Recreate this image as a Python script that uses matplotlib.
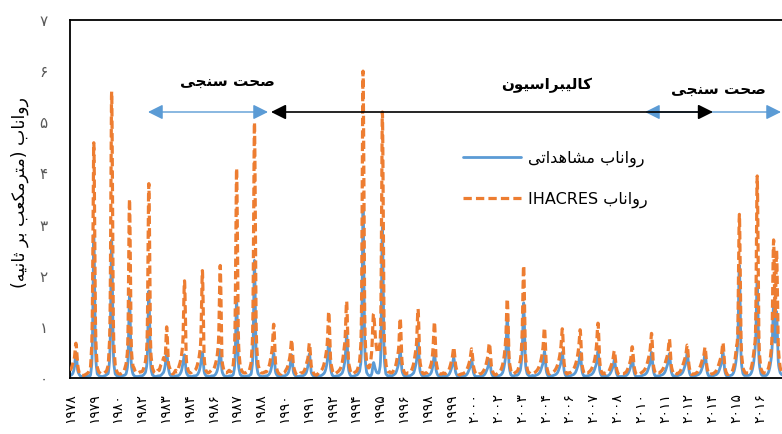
import numpy as np
import matplotlib
matplotlib.use("Agg")
import matplotlib.pyplot as plt
from matplotlib.patches import FancyArrowPatch

plt.rcParams['font.family'] = ['DejaVu Sans']

# ---------------- data (monthly runoff, m3/s), one row per year ----------------
years = list(range(1978, 2018))
obs = [
    [0.05,0.06,0.10,0.22,0.50,0.18,0.08,0.04,0.03,0.03,0.03,0.03],  # 1978
    [0.04,0.05,0.10,0.60,2.80,0.70,0.15,0.06,0.04,0.03,0.03,0.04],  # 1979
    [0.05,0.08,0.15,0.70,2.70,0.65,0.15,0.06,0.04,0.03,0.03,0.04],  # 1980
    [0.05,0.06,0.12,0.40,1.60,0.40,0.12,0.05,0.03,0.03,0.03,0.04],  # 1981
    [0.04,0.05,0.08,0.15,0.45,1.70,0.40,0.10,0.05,0.03,0.03,0.04],  # 1982
    [0.04,0.05,0.08,0.12,0.25,0.50,0.22,0.08,0.04,0.03,0.03,0.04],  # 1983
    [0.04,0.05,0.08,0.15,0.30,0.45,0.15,0.06,0.04,0.03,0.03,0.04],  # 1984
    [0.04,0.05,0.08,0.15,0.30,0.50,0.16,0.06,0.04,0.03,0.03,0.04],  # 1985
    [0.04,0.05,0.08,0.15,0.30,0.55,0.18,0.07,0.04,0.03,0.03,0.04],  # 1986
    [0.04,0.05,0.10,0.40,1.50,0.40,0.12,0.05,0.04,0.03,0.03,0.04],  # 1987
    [0.04,0.06,0.12,0.55,2.30,0.55,0.15,0.06,0.04,0.03,0.03,0.04],  # 1988
    [0.04,0.05,0.08,0.15,0.30,0.48,0.15,0.06,0.04,0.03,0.03,0.04],  # 1989
    [0.04,0.05,0.07,0.12,0.25,0.45,0.15,0.06,0.04,0.03,0.03,0.04],  # 1990
    [0.04,0.05,0.07,0.12,0.25,0.47,0.15,0.06,0.04,0.03,0.03,0.04],  # 1991
    [0.04,0.05,0.07,0.10,0.18,0.35,0.75,0.25,0.08,0.04,0.03,0.04],  # 1992
    [0.04,0.05,0.07,0.10,0.20,0.40,0.85,0.25,0.08,0.04,0.03,0.04],  # 1993
    [0.05,0.06,0.10,0.20,0.70,3.35,0.80,0.20,0.08,0.05,0.04,0.10],  # 1994
    [0.30,0.20,0.12,0.10,0.15,0.60,2.95,0.70,0.15,0.06,0.04,0.05],  # 1995
    [0.04,0.05,0.07,0.10,0.18,0.30,0.52,0.18,0.07,0.04,0.03,0.04],  # 1996
    [0.04,0.05,0.07,0.10,0.20,0.35,0.74,0.22,0.08,0.04,0.03,0.04],  # 1997
    [0.04,0.05,0.07,0.12,0.25,0.48,0.18,0.07,0.04,0.03,0.03,0.04],  # 1998
    [0.03,0.04,0.05,0.08,0.15,0.25,0.40,0.15,0.06,0.03,0.03,0.03],  # 1999
    [0.03,0.04,0.05,0.08,0.14,0.22,0.36,0.14,0.05,0.03,0.03,0.03],  # 2000
    [0.03,0.04,0.05,0.08,0.14,0.22,0.36,0.14,0.05,0.03,0.03,0.03],  # 2001
    [0.04,0.05,0.07,0.12,0.25,0.50,1.20,0.35,0.10,0.05,0.04,0.05],  # 2002
    [0.05,0.06,0.10,0.20,0.55,1.47,0.40,0.12,0.06,0.04,0.04,0.05],  # 2003
    [0.04,0.05,0.06,0.08,0.12,0.20,0.30,0.52,0.18,0.06,0.04,0.04],  # 2004
    [0.04,0.05,0.06,0.08,0.12,0.20,0.30,0.50,0.18,0.06,0.04,0.04],  # 2005
    [0.04,0.05,0.06,0.08,0.12,0.20,0.30,0.50,0.18,0.06,0.04,0.04],  # 2006
    [0.04,0.05,0.06,0.08,0.12,0.20,0.30,0.52,0.18,0.06,0.04,0.04],  # 2007
    [0.03,0.04,0.05,0.08,0.14,0.22,0.36,0.14,0.05,0.03,0.03,0.03],  # 2008
    [0.03,0.04,0.05,0.08,0.14,0.24,0.42,0.15,0.05,0.03,0.03,0.03],  # 2009
    [0.04,0.05,0.06,0.08,0.12,0.20,0.30,0.50,0.18,0.06,0.04,0.04],  # 2010
    [0.04,0.05,0.06,0.08,0.12,0.20,0.30,0.47,0.17,0.06,0.04,0.04],  # 2011
    [0.04,0.05,0.06,0.08,0.12,0.20,0.30,0.50,0.18,0.06,0.04,0.04],  # 2012
    [0.04,0.05,0.06,0.08,0.12,0.20,0.30,0.50,0.18,0.06,0.04,0.04],  # 2013
    [0.04,0.05,0.06,0.08,0.12,0.20,0.30,0.50,0.18,0.06,0.04,0.04],  # 2014
    [0.05,0.06,0.10,0.20,0.40,0.80,2.20,0.55,0.15,0.06,0.05,0.05],  # 2015
    [0.05,0.06,0.10,0.20,0.40,0.80,1.90,0.50,0.15,0.06,0.05,0.05],  # 2016
    [0.05,0.08,0.15,0.30,0.60,1.50,0.70,1.30,0.40,0.15,0.08,0.06],  # 2017
]
sim = [
    [0.15,0.20,0.30,0.40,0.68,0.30,0.12,0.06,0.05,0.05,0.06,0.08],  # 1978
    [0.10,0.15,0.30,1.20,4.60,1.30,0.35,0.15,0.10,0.08,0.08,0.10],  # 1979
    [0.12,0.18,0.40,1.40,5.60,1.40,0.40,0.18,0.10,0.08,0.08,0.10],  # 1980
    [0.12,0.20,0.35,0.90,3.50,0.90,0.30,0.20,0.12,0.10,0.10,0.12],  # 1981
    [0.12,0.15,0.25,0.40,1.00,3.80,0.90,0.30,0.15,0.10,0.10,0.15],  # 1982
    [0.15,0.25,0.30,0.40,0.38,1.00,0.35,0.20,0.12,0.08,0.10,0.15],  # 1983
    [0.12,0.20,0.30,0.45,0.80,1.90,0.50,0.20,0.12,0.10,0.12,0.15],  # 1984
    [0.15,0.20,0.30,0.45,0.80,2.10,0.55,0.20,0.12,0.10,0.12,0.15],  # 1985
    [0.15,0.20,0.30,0.45,0.85,2.20,0.55,0.20,0.12,0.10,0.12,0.15],  # 1986
    [0.12,0.18,0.35,1.10,4.10,1.10,0.35,0.18,0.12,0.10,0.10,0.12],  # 1987
    [0.12,0.20,0.40,1.30,5.00,1.30,0.40,0.20,0.12,0.10,0.10,0.12],  # 1988
    [0.12,0.18,0.25,0.40,0.60,1.05,0.35,0.18,0.10,0.08,0.08,0.12],  # 1989
    [0.10,0.15,0.20,0.30,0.45,0.75,0.30,0.15,0.08,0.06,0.06,0.10],  # 1990
    [0.10,0.12,0.18,0.28,0.40,0.68,0.28,0.15,0.08,0.06,0.06,0.10],  # 1991
    [0.12,0.15,0.20,0.30,0.45,0.70,1.30,0.45,0.20,0.10,0.08,0.10],  # 1992
    [0.12,0.15,0.20,0.30,0.50,0.80,1.50,0.45,0.20,0.10,0.08,0.10],  # 1993
    [0.12,0.15,0.25,0.45,1.40,6.00,1.50,0.45,0.25,0.20,0.30,0.60],  # 1994
    [1.25,0.90,0.60,0.50,0.60,1.30,5.20,1.30,0.40,0.20,0.12,0.12],  # 1995
    [0.10,0.12,0.18,0.25,0.40,0.60,1.17,0.40,0.18,0.10,0.08,0.10],  # 1996
    [0.10,0.12,0.18,0.28,0.45,0.70,1.35,0.45,0.20,0.10,0.08,0.10],  # 1997
    [0.10,0.12,0.20,0.30,0.55,1.10,0.40,0.18,0.10,0.08,0.08,0.10],  # 1998
    [0.08,0.10,0.12,0.18,0.28,0.40,0.60,0.30,0.15,0.08,0.06,0.08],  # 1999
    [0.08,0.10,0.12,0.18,0.26,0.38,0.57,0.28,0.14,0.08,0.06,0.08],  # 2000
    [0.08,0.10,0.14,0.20,0.30,0.45,0.68,0.30,0.14,0.08,0.06,0.08],  # 2001
    [0.10,0.12,0.18,0.28,0.45,0.80,1.55,0.50,0.20,0.10,0.08,0.10],  # 2002
    [0.12,0.15,0.25,0.40,0.90,2.20,0.60,0.25,0.12,0.10,0.08,0.10],  # 2003
    [0.10,0.12,0.15,0.20,0.28,0.40,0.60,0.98,0.35,0.15,0.08,0.10],  # 2004
    [0.10,0.12,0.15,0.20,0.28,0.40,0.60,0.96,0.35,0.15,0.08,0.10],  # 2005
    [0.10,0.12,0.15,0.20,0.28,0.40,0.60,0.94,0.35,0.15,0.08,0.10],  # 2006
    [0.10,0.12,0.15,0.20,0.28,0.40,0.65,1.07,0.38,0.15,0.08,0.10],  # 2007
    [0.08,0.10,0.12,0.18,0.26,0.36,0.53,0.25,0.12,0.07,0.06,0.08],  # 2008
    [0.08,0.10,0.12,0.18,0.26,0.38,0.61,0.28,0.12,0.07,0.06,0.08],  # 2009
    [0.10,0.12,0.15,0.20,0.28,0.40,0.55,0.87,0.32,0.14,0.08,0.10],  # 2010
    [0.10,0.12,0.15,0.20,0.28,0.38,0.50,0.76,0.30,0.14,0.08,0.10],  # 2011
    [0.08,0.10,0.12,0.18,0.25,0.35,0.45,0.64,0.28,0.12,0.07,0.08],  # 2012
    [0.08,0.10,0.12,0.18,0.25,0.35,0.42,0.60,0.26,0.12,0.07,0.08],  # 2013
    [0.08,0.10,0.12,0.18,0.25,0.35,0.45,0.69,0.28,0.12,0.07,0.08],  # 2014
    [0.10,0.12,0.20,0.35,0.60,1.00,3.20,0.90,0.30,0.15,0.10,0.10],  # 2015
    [0.10,0.12,0.20,0.35,0.60,1.10,3.95,1.00,0.30,0.15,0.10,0.10],  # 2016
    [0.10,0.15,0.25,0.45,0.90,2.70,1.20,2.50,0.80,0.30,0.15,0.10],  # 2017
]
tick_years = [1978, 1979, 1980, 1982, 1983, 1984, 1986, 1987, 1988, 1990, 1991,
              1992, 1994, 1995, 1996, 1998, 1999, 2000, 2002, 2003, 2004, 2006,
              2007, 2008, 2010, 2011, 2012, 2014, 2015, 2016]
y_ticks = [0, 1, 2, 3, 4, 5, 6, 7]

ylabel_txt = "رواناب (مترمکعب بر ثانیه)"
obs_label = "رواناب مشاهداتی"
sim_label = "رواناب IHACRES"
valid_txt = "صحت سنجی"
calib_txt = "کالیبراسیون"

# ---------------- minimal Persian shaping (matplotlib has no text shaping) ----------------
FORMS = {
    'ا': ('\uFE8D', '\uFE8E'), 'د': ('\uFEA9', '\uFEAA'), 'ر': ('\uFEAD', '\uFEAE'),
    'و': ('\uFEED', '\uFEEE'),
    'ب': ('\uFE8F', '\uFE90', '\uFE91', '\uFE92'), 'ت': ('\uFE95', '\uFE96', '\uFE97', '\uFE98'),
    'ث': ('\uFE99', '\uFE9A', '\uFE9B', '\uFE9C'), 'ج': ('\uFE9D', '\uFE9E', '\uFE9F', '\uFEA0'),
    'ح': ('\uFEA1', '\uFEA2', '\uFEA3', '\uFEA4'), 'س': ('\uFEB1', '\uFEB2', '\uFEB3', '\uFEB4'),
    'ش': ('\uFEB5', '\uFEB6', '\uFEB7', '\uFEB8'), 'ص': ('\uFEB9', '\uFEBA', '\uFEBB', '\uFEBC'),
    'ع': ('\uFEC9', '\uFECA', '\uFECB', '\uFECC'), 'ل': ('\uFEDD', '\uFEDE', '\uFEDF', '\uFEE0'),
    'م': ('\uFEE1', '\uFEE2', '\uFEE3', '\uFEE4'), 'ن': ('\uFEE5', '\uFEE6', '\uFEE7', '\uFEE8'),
    'ه': ('\uFEE9', '\uFEEA', '\uFEEB', '\uFEEC'), 'ی': ('\uFEEF', '\uFEF0', '\uFEF3', '\uFEF4'),
    'ک': ('\uFED9', '\uFEDA', '\uFEDB', '\uFEDC'),
}


def shape(word):
    out = []
    for i, c in enumerate(word):
        if c not in FORMS:
            out.append(c)
            continue
        f = FORMS[c]
        prev = word[i - 1] if i > 0 else ''
        nxt = word[i + 1] if i + 1 < len(word) else ''
        jp = prev in FORMS and len(FORMS[prev]) == 4
        jn = len(f) == 4 and nxt in FORMS
        if len(f) == 2:
            out.append(f[1] if jp else f[0])
        else:
            out.append(f[3] if (jp and jn) else f[1] if jp else f[2] if jn else f[0])
    return ''.join(out)


def rtl(text):
    mirror = {'(': ')', ')': '('}
    toks = text.split(' ')
    vis = []
    for t in reversed(toks):
        if any('\u0600' <= c <= '\u06FF' for c in t):
            vis.append(''.join(mirror.get(c, c) for c in reversed(shape(t))))
        else:
            vis.append(t)
    return ' '.join(vis)


def fa_digits(s):
    return str(s).translate(str.maketrans('0123456789', '۰۱۲۳۴۵۶۷۸۹'))


def smooth(y, n=10):
    # Excel-like smoothed line (Catmull-Rom through monthly points)
    y = np.asarray(y, float)
    xs, ys = [], []
    for i in range(len(y) - 1):
        p0 = y[i - 1] if i > 0 else y[i]
        p1, p2 = y[i], y[i + 1]
        p3 = y[i + 2] if i + 2 < len(y) else y[i + 1]
        t = np.linspace(0, 1, n, endpoint=False)
        ys.append(0.5 * (2 * p1 + (-p0 + p2) * t + (2 * p0 - 5 * p1 + 4 * p2 - p3) * t ** 2
                         + (-p0 + 3 * p1 - 3 * p2 + p3) * t ** 3))
        xs.append(i + t)
    xs.append([len(y) - 1]); ys.append([y[-1]])
    return np.concatenate(xs), np.concatenate(ys)


obs_m = np.concatenate([np.array(r) for r in obs])
sim_m = np.concatenate([np.array(r) for r in sim])

# ---------------- figure ----------------
W, H = 782, 434
fig = plt.figure(figsize=(W / 100, H / 100), dpi=100)
x0, x1, ytop, ybot = 70, 782, 20, 378
ax = fig.add_axes([x0 / W, (H - ybot) / H, (x1 - x0) / W, (ybot - ytop) / H])

blue = '#5B9BD5'
orange = '#ED7D31'
xo, yo = smooth(obs_m)
xs_, ys_ = smooth(sim_m)
l_obs, = ax.plot(xo, yo, color=blue, lw=2.0, solid_capstyle='round', zorder=2)
l_sim, = ax.plot(xs_, ys_, color=orange, lw=2.3, dashes=(2.6, 1.3), zorder=3)

px_per_month = 1.4875
ax.set_xlim(0.0, (x1 - x0) / px_per_month)
ax.set_ylim(0, 7)

tick_pos = [i * 16 for i in range(len(tick_years))]
ax.set_xticks(tick_pos)
ax.set_xticklabels([fa_digits(y) for y in tick_years], rotation=90, fontsize=10)
ax.set_yticks(y_ticks)
ax.set_yticklabels([fa_digits(v) for v in y_ticks], fontsize=11, color='#595959')
ax.tick_params(axis='x', length=0, pad=11)
ax.tick_params(axis='y', length=0, pad=16)
for s in ['left', 'bottom', 'top']:
    ax.spines[s].set_linewidth(1.3)
    ax.spines[s].set_color('black')
ax.spines['right'].set_visible(False)

fig.text(20 / W, 1 - 193 / H, rtl(ylabel_txt), rotation=90, ha='center', va='center', fontsize=12.5)

# annotations (period arrows)
def fp(px, py):
    return (px / W, 1 - py / H)

ay = 112
style = '<|-|>,head_length=9,head_width=4.5'
for (a, b, c, lw, z) in [(645, 781, blue, 1.0, 4), (148, 268, blue, 1.0, 4), (271, 713, 'black', 1.2, 5)]:
    arr = FancyArrowPatch(fp(a, ay), fp(b, ay), transform=fig.transFigure, arrowstyle=style,
                          mutation_scale=1, color=c, lw=lw, shrinkA=0, shrinkB=0, zorder=z)
    fig.patches.append(arr)

fig.text(227 / W, 1 - 82 / H, rtl(valid_txt), ha='center', va='center', fontsize=11, fontweight='bold')
fig.text(547 / W, 1 - 85 / H, rtl(calib_txt), ha='center', va='center', fontsize=11, fontweight='bold')
fig.text(718 / W, 1 - 90 / H, rtl(valid_txt), ha='center', va='center', fontsize=11, fontweight='bold')

leg = ax.legend([l_obs, l_sim], [rtl(obs_label), rtl(sim_label)], loc='upper left',
                bbox_to_anchor=fp(463, 151), bbox_transform=fig.transFigure, frameon=False,
                fontsize=11.5, handlelength=3.6, handletextpad=0.5, labelspacing=1.5, borderpad=0,
                borderaxespad=0)

fig.savefig('out.png', dpi=100)
